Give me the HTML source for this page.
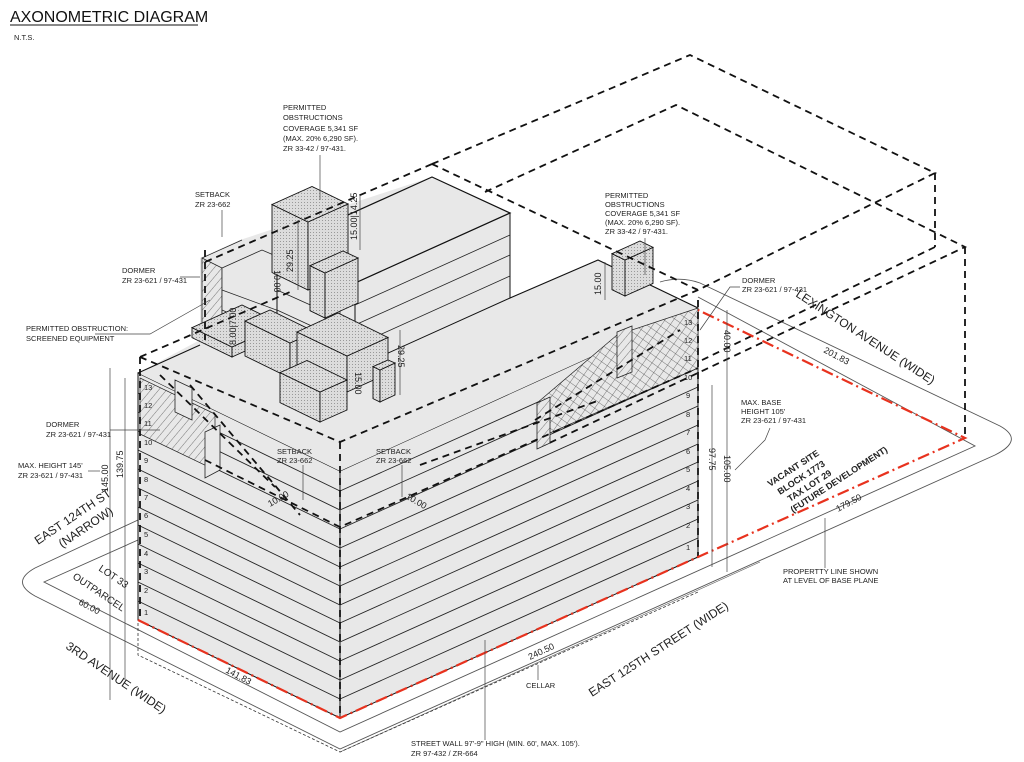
<!DOCTYPE html>
<html><head><meta charset="utf-8"><style>
html,body{margin:0;padding:0;background:#fff;}
svg{display:block;}
text{font-family:"Liberation Sans",sans-serif;fill:#222;}
.s{font-size:7.5px;}
.st{font-size:12px;fill:#333;}
</style></head><body>
<svg width="1024" height="762" viewBox="0 0 1024 762" xmlns="http://www.w3.org/2000/svg">
<defs>
<pattern id="hatch" width="6" height="6" patternUnits="userSpaceOnUse" patternTransform="rotate(40)">
<rect width="6" height="6" fill="#e8e8e8"/><line x1="0" y1="0" x2="0" y2="6" stroke="#444" stroke-width="0.7"/></pattern>
<pattern id="xh" width="7" height="7" patternUnits="userSpaceOnUse" patternTransform="rotate(35)">
<rect width="7" height="7" fill="#e8e8e8"/><line x1="0" y1="0" x2="0" y2="7" stroke="#444" stroke-width="0.7"/><line x1="0" y1="0" x2="7" y2="0" stroke="#444" stroke-width="0.7"/></pattern>
<pattern id="dots" width="3" height="3" patternUnits="userSpaceOnUse">
<rect width="3" height="3" fill="#dcdcdc"/><rect x="1" y="1" width="1" height="1" fill="#999"/></pattern>
</defs>

<text x="10" y="22" style="font-size:16px;fill:#111">AXONOMETRIC DIAGRAM</text>
<line x1="10" y1="25" x2="198" y2="25" stroke="#111" stroke-width="1"/>
<text x="14" y="40" class="s">N.T.S.</text>

<g fill="none" stroke="#555" stroke-width="0.9">
<path d="M138,520 L35,568 Q10,582 35,596 L340,749 L995,455 Q1025,440 1000,426 L700,283 Q680,276 660,282"/>
<path d="M138,540 L44,582 L340,732 L975,446 L698,297"/>
<path d="M340,752 L760,562" stroke-width="0.6"/>
<path d="M160,575 L138,585" stroke-dasharray="3,2" stroke-width="0.6"/>
</g>
<path d="M138,623 L138,655 L340,752 L698,592" fill="none" stroke="#333" stroke-width="0.8" stroke-dasharray="3,2"/>

<polygon points="138,373 340,471 340,718 138,620" fill="#e8e8e8" stroke="#111" stroke-width="1"/>
<polygon points="340,471 698,308 698,557 340,718" fill="#e8e8e8" stroke="#111" stroke-width="1"/>
<polygon points="138,373 340,471 698,308 598,260 510,298 510,213 432,177 240,240 200,258 200,340" fill="#e8e8e8" stroke="none"/>
<polyline points="138,373 200,345" fill="none" stroke="#111"/>
<polyline points="698,308 598,260 510,298" fill="none" stroke="#111" stroke-width="1.2"/>

<g stroke="#222" stroke-width="0.9">
<line x1="138" y1="601" x2="340" y2="699"/><line x1="138" y1="582" x2="340" y2="680"/><line x1="138" y1="563" x2="340" y2="661"/>
<line x1="138" y1="544" x2="340" y2="642"/><line x1="138" y1="525" x2="340" y2="623"/><line x1="138" y1="507" x2="340" y2="605"/>
<line x1="138" y1="488" x2="340" y2="586"/><line x1="138" y1="469" x2="340" y2="567"/><line x1="138" y1="450" x2="340" y2="548"/>
<line x1="138" y1="431" x2="340" y2="529"/><line x1="138" y1="412" x2="340" y2="510"/><line x1="138" y1="393" x2="340" y2="491"/>
<line x1="340" y1="699" x2="698" y2="538"/><line x1="340" y1="680" x2="698" y2="519"/><line x1="340" y1="661" x2="698" y2="500"/>
<line x1="340" y1="642" x2="698" y2="481"/><line x1="340" y1="623" x2="698" y2="462"/><line x1="340" y1="605" x2="698" y2="444"/>
<line x1="340" y1="586" x2="698" y2="425"/><line x1="340" y1="567" x2="698" y2="406"/><line x1="340" y1="548" x2="698" y2="387"/>
<line x1="340" y1="529" x2="698" y2="368"/><line x1="340" y1="510" x2="698" y2="349"/><line x1="340" y1="491" x2="698" y2="330"/>
</g>

<polygon points="140,378 215,414 215,470 140,434" fill="url(#hatch)" stroke="#222" stroke-width="0.7"/>
<polygon points="175,380 192,388 192,420 175,412" fill="#e8e8e8" stroke="#222" stroke-width="0.8"/>
<polygon points="205,432 220,425 220,470 205,478" fill="#e8e8e8" stroke="#222" stroke-width="0.8"/>
<polygon points="537,403 617,335 698,308 698,368 550,433" fill="url(#xh)" stroke="#222" stroke-width="0.7"/>
<polygon points="537,403 550,397 550,443 537,449" fill="url(#hatch)" stroke="#222" stroke-width="0.8"/>
<polygon points="617,332 632,326 632,372 617,378" fill="url(#hatch)" stroke="#222" stroke-width="0.8"/>

<polygon points="202,258 222,268 222,345 202,335" fill="url(#hatch)" stroke="#222" stroke-width="0.8"/>
<polygon points="222,268 262,250 290,262 290,330 222,345" fill="#e8e8e8" stroke="#222" stroke-width="0.8"/>
<g stroke="#222" stroke-width="0.7"><line x1="222" y1="290" x2="290" y2="315"/><line x1="222" y1="310" x2="290" y2="340"/><line x1="202" y1="258" x2="242" y2="240"/></g>

<polygon points="277,247 355,283 355,368 277,330" fill="#e8e8e8" stroke="#111" stroke-width="1"/>
<polygon points="355,283 510,213 510,298 355,368" fill="#e8e8e8" stroke="#111" stroke-width="1"/>
<polygon points="432,177 510,213 355,283 277,247" fill="#e8e8e8" stroke="#111" stroke-width="1.2"/>
<g stroke="#222" stroke-width="0.8">
<line x1="355" y1="305" x2="510" y2="235"/><line x1="355" y1="325" x2="510" y2="255"/><line x1="355" y1="346" x2="510" y2="276"/>
<line x1="277" y1="269" x2="355" y2="305"/><line x1="277" y1="290" x2="355" y2="325"/><line x1="277" y1="310" x2="355" y2="346"/>
<line x1="340" y1="278" x2="340" y2="360"/>
</g>

<polygon points="272,272.5 308,290 308,222 272,204.5" fill="url(#dots)" stroke="#111" stroke-width="0.9"/>
<polygon points="308,290 348,272 348,204 308,222" fill="url(#dots)" stroke="#111" stroke-width="0.9"/>
<polygon points="308,222 348,204 312,186.5 272,204.5" fill="url(#dots)" stroke="#111" stroke-width="0.9"/>
<polygon points="310,310.7 325,318 325,273 310,265.7" fill="url(#dots)" stroke="#111" stroke-width="0.9"/>
<polygon points="325,318 358,303 358,258 325,273" fill="url(#dots)" stroke="#111" stroke-width="0.9"/>
<polygon points="325,273 358,258 343,251 310,265.7" fill="url(#dots)" stroke="#111" stroke-width="0.9"/>

<g stroke="#111" stroke-width="0.9" fill="url(#dots)">
<polygon points="192,337.6 232,357 232,347 192,327.6"/><polygon points="232,357 282,334.5 282,324.5 232,347"/><polygon points="232,347 282,324.5 242,305 192,327.6"/>
<polygon points="245,356 290,378 290,343 245,321"/><polygon points="290,378 315,367 315,332 290,343"/><polygon points="290,343 315,332 270,310 245,321"/>
<polygon points="297,368 347,392 347,356 297,332"/><polygon points="347,392 388,373.5 388,337.5 347,356"/><polygon points="347,356 388,337.5 338,313 297,332"/>
<polygon points="280,402.6 320,422 320,392 280,372.6"/><polygon points="320,422 347,410 347,380 320,392"/><polygon points="320,392 347,380 307,360.5 280,372.6"/>
<polygon points="373,398.6 380,402 380,370 373,366.6"/><polygon points="380,402 395,395 395,363 380,370"/><polygon points="380,370 395,363 388,360 373,366.6"/>
<polygon points="612,289.7 625,296 625,260 612,253.7"/><polygon points="625,296 653,283.4 653,247.4 625,260"/><polygon points="625,260 653,247.4 640,241 612,253.7"/>
</g>

<g fill="none" stroke="#111" stroke-width="1.8" stroke-dasharray="7,5">
<polyline points="432,164 690,55 935,173 698,290 432,164"/>
<line x1="935" y1="173" x2="935" y2="247"/>
<line x1="935" y1="247" x2="698" y2="362"/>
<polyline points="485,192 676,105 965,247 545,445"/>
<line x1="965" y1="247" x2="965" y2="438"/>
<line x1="432" y1="164" x2="205" y2="262"/>
<line x1="205" y1="250" x2="205" y2="340"/>
<polyline points="140,357 340,442 698,290"/>
<line x1="140" y1="357" x2="290" y2="292"/>
<line x1="340" y1="442" x2="340" y2="718"/>
<line x1="698" y1="300" x2="698" y2="557"/>
<line x1="140" y1="357" x2="140" y2="620"/>
<polyline points="160,375 275,487"/>
<polyline points="205,460 340,527 698,368"/>
<line x1="190" y1="385" x2="300" y2="515"/>
<line x1="420" y1="465" x2="600" y2="400"/>
<line x1="535" y1="420" x2="680" y2="330"/>
</g>

<g fill="none" stroke="#e8321e" stroke-width="2.2" stroke-dasharray="12,4,2,4">
<polyline points="138,620 340,718 698,557 965,438 698,310"/>
</g>

<g stroke="#444" stroke-width="0.7" fill="none">
<line x1="110" y1="368" x2="110" y2="700"/><line x1="125" y1="378" x2="125" y2="680"/>
<line x1="712" y1="385" x2="712" y2="567"/><line x1="727" y1="380" x2="727" y2="572"/>
<line x1="727" y1="310" x2="727" y2="380"/>
<line x1="298" y1="220" x2="298" y2="290"/><line x1="400" y1="330" x2="400" y2="395"/>
<line x1="360" y1="195" x2="360" y2="250"/><line x1="605" y1="262" x2="605" y2="300"/>
<polyline points="320,155 320,200"/><polyline points="645,238 645,275"/>
<polyline points="222,210 222,237"/><polyline points="180,277 200,277"/>
<polyline points="95,334 150,334 210,300"/><polyline points="110,430 160,430"/>
<polyline points="88,471 100,471"/><polyline points="303,465 303,500"/><polyline points="402,465 402,497"/>
<polyline points="740,287 730,287 700,330"/><polyline points="770,428 765,440 735,470"/>
<polyline points="825,518 825,568"/><polyline points="538,665 538,680"/><polyline points="485,640 485,740"/>
</g>

<g class="s">
<text x="283" y="110">PERMITTED</text><text x="283" y="120">OBSTRUCTIONS</text><text x="283" y="131">COVERAGE 5,341 SF</text><text x="283" y="141">(MAX. 20% 6,290 SF).</text><text x="283" y="151">ZR 33-42 / 97-431.</text>
<text x="605" y="198">PERMITTED</text><text x="605" y="207">OBSTRUCTIONS</text><text x="605" y="216">COVERAGE 5,341 SF</text><text x="605" y="225">(MAX. 20% 6,290 SF).</text><text x="605" y="234">ZR 33-42 / 97-431.</text>
<text x="195" y="197">SETBACK</text><text x="195" y="207">ZR 23-662</text>
<text x="122" y="273">DORMER</text><text x="122" y="283">ZR 23-621 / 97-431</text>
<text x="26" y="331">PERMITTED OBSTRUCTION:</text><text x="26" y="341">SCREENED EQUIPMENT</text>
<text x="46" y="427">DORMER</text><text x="46" y="437">ZR 23-621 / 97-431</text>
<text x="18" y="468">MAX. HEIGHT 145'</text><text x="18" y="478">ZR 23-621 / 97-431</text>
<text x="277" y="454">SETBACK</text><text x="277" y="463">ZR 23-662</text>
<text x="376" y="454">SETBACK</text><text x="376" y="463">ZR 23-662</text>
<text x="742" y="283">DORMER</text><text x="742" y="292">ZR 23-621 / 97-431</text>
<text x="741" y="405">MAX. BASE</text><text x="741" y="414">HEIGHT 105'</text><text x="741" y="423">ZR 23-621 / 97-431</text>
<text x="783" y="574">PROPERTTY LINE SHOWN</text><text x="783" y="583">AT LEVEL OF BASE PLANE</text>
<text x="526" y="688">CELLAR</text>
<text x="411" y="746">STREET WALL 97'-9" HIGH (MIN. 60', MAX. 105').</text><text x="411" y="756">ZR 97-432 / ZR-664</text>
<text x="144" y="615">1</text><text x="144" y="593">2</text><text x="144" y="574">3</text><text x="144" y="556">4</text><text x="144" y="537">5</text><text x="144" y="518">6</text><text x="144" y="500">7</text><text x="144" y="482">8</text><text x="144" y="463">9</text><text x="144" y="445">10</text><text x="144" y="426">11</text><text x="144" y="408">12</text><text x="144" y="390">13</text>
<text x="686" y="550">1</text><text x="686" y="528">2</text><text x="686" y="509">3</text><text x="686" y="491">4</text><text x="686" y="472">5</text><text x="686" y="454">6</text><text x="686" y="435">7</text><text x="686" y="417">8</text><text x="686" y="398">9</text><text x="684" y="380">10</text><text x="684" y="361">11</text><text x="684" y="343">12</text><text x="684" y="325">13</text>
</g>
<g style="font-size:9px">
<text transform="translate(108,492) rotate(-90)">145.00</text>
<text transform="translate(123,478) rotate(-90)">139.75</text>
<text transform="translate(709,448) rotate(90)">97.75</text>
<text transform="translate(724,455) rotate(90)">105.00</text>
<text transform="translate(724,330) rotate(90)">40.00</text>
<text transform="translate(293,272) rotate(-90)">29.25</text>
<text transform="translate(357,240) rotate(-90)">15.00|14.25</text>
<text transform="translate(236,345) rotate(-90)">8.00|7.00</text>
<text transform="translate(398,345) rotate(90)">29.25</text>
<text transform="translate(355,372) rotate(90)">15.00</text>
<text transform="translate(274,270) rotate(90)">10.00</text>
<text transform="translate(601,295) rotate(-90)">15.00</text>
<text transform="translate(270,507) rotate(-30)">10.00</text>
<text transform="translate(405,498) rotate(30)">10.00</text>
<text transform="translate(823,352) rotate(28)">201.83</text>
<text transform="translate(838,512) rotate(-28)">179.50</text>
<text transform="translate(530,660) rotate(-25)">240.50</text>
<text transform="translate(225,672) rotate(28)">141.83</text>
<text transform="translate(78,604) rotate(28)">60.00</text>
</g>
<g class="st">
<text transform="translate(38,545) rotate(-34)">EAST 124TH ST</text>
<text transform="translate(62,548) rotate(-34)">(NARROW)</text>
<text transform="translate(65,648) rotate(34)">3RD AVENUE (WIDE)</text>
<text transform="translate(592,697) rotate(-33)">EAST 125TH STREET (WIDE)</text>
<text transform="translate(795,296) rotate(33)">LEXINGTON AVENUE (WIDE)</text>
<text transform="translate(98,570) rotate(34)" style="font-size:10px">LOT 33</text>
<text transform="translate(72,578) rotate(34)" style="font-size:10px">OUTPARCEL</text>
</g>
<g style="font-size:9px;font-weight:bold">
<text transform="translate(770,487) rotate(-33)">VACANT SITE</text>
<text transform="translate(780,495) rotate(-33)">BLOCK 1773</text>
<text transform="translate(790,502) rotate(-33)">TAX LOT 29</text>
<text transform="translate(793,513) rotate(-33)">(FUTURE DEVELOPMENT)</text>
</g>
</svg>
</body></html>
